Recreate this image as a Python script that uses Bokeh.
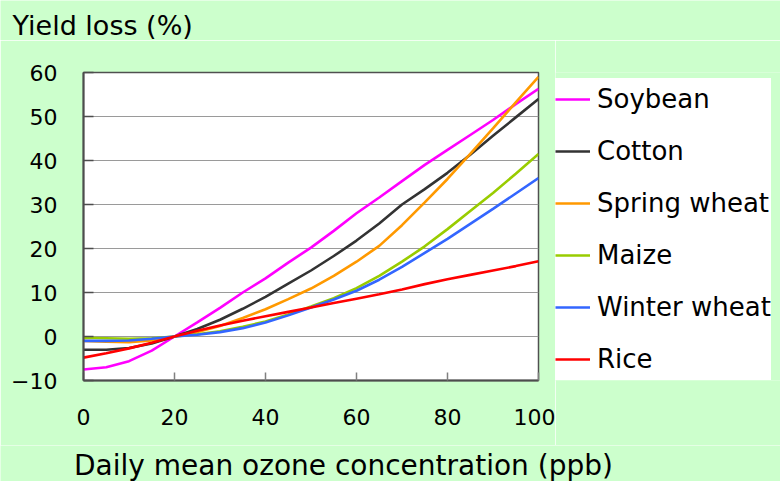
from bokeh.plotting import figure
from bokeh.layouts import row, column
from bokeh.models import Range1d, FixedTicker, Legend, LegendItem, Label
from bokeh.embed import file_html
from bokeh.resources import INLINE

# ---- data -------------------------------------------------------------
ozone = [0, 5, 10, 15, 20, 25, 30, 35, 40, 45, 50, 55, 60, 65, 70, 75, 80, 85, 90, 95, 100]

soybean = [-7.5, -7.0, -5.6, -3.2, 0, 3.2, 6.5, 10.0, 13.2, 16.8, 20.2, 24.0, 28.0, 31.6, 35.3, 39.0, 42.4, 45.8, 49.2, 52.8, 56.3]
cotton = [-3.0, -3.0, -2.6, -1.6, 0, 1.7, 3.8, 6.3, 9.0, 12.0, 15.0, 18.3, 21.8, 25.7, 30.0, 33.5, 37.2, 41.3, 45.6, 49.8, 54.0]
spring_wheat = [-1.0, -1.2, -1.3, -0.9, 0, 1.0, 2.4, 4.2, 6.2, 8.5, 10.9, 13.8, 17.0, 20.6, 25.3, 30.5, 35.8, 41.5, 47.3, 53.2, 59.0]
maize = [-0.3, -0.4, -0.5, -0.4, 0, 0.5, 1.2, 2.2, 3.4, 5.0, 6.8, 8.7, 11.0, 13.8, 17.0, 20.5, 24.4, 28.5, 32.6, 37.0, 41.5]
winter_wheat = [-1.0, -1.0, -0.9, -0.5, 0, 0.4, 1.0, 1.9, 3.2, 4.8, 6.6, 8.4, 10.4, 12.9, 15.8, 19.0, 22.2, 25.6, 29.0, 32.5, 36.0]
rice = [-4.8, -3.8, -2.7, -1.4, 0, 1.3, 2.5, 3.6, 4.6, 5.6, 6.6, 7.6, 8.6, 9.6, 10.7, 11.9, 13.0, 14.0, 15.0, 16.0, 17.1]

crop_names = ["Soybean", "Cotton", "Spring wheat", "Maize", "Winter wheat", "Rice"]
crop_values = [soybean, cotton, spring_wheat, maize, winter_wheat, rice]
crop_colors = ["#FF00FF", "#333333", "#FF9900", "#99CC00", "#3366FF", "#FF0000"]

x_ticks = [0, 20, 40, 60, 80, 100]
y_ticks = [-10, 0, 10, 20, 30, 40, 50, 60]

y_title = "Yield loss (%)"
x_title = "Daily mean ozone concentration (ppb)"

FONT = "DejaVu Sans"
BG = "#CCFFCC"


def strip(width, height):
    s = figure(width=width, height=height, output_backend="svg", toolbar_location=None,
               title=None, x_range=Range1d(0, width), y_range=Range1d(0, height),
               x_axis_location=None, y_axis_location=None,
               min_border=0, background_fill_color=BG, border_fill_color=BG,
               outline_line_color=None)
    s.grid.visible = False
    return s


# ---- y-axis title strip (top) -----------------------------------------
top = strip(780, 40)
top.add_layout(Label(x=12, y=15, text=y_title, text_font=FONT,
                     text_font_size="27px", text_color="black",
                     text_align="left", text_baseline="alphabetic"))

# ---- main chart -------------------------------------------------------
p = figure(width=555, height=405, output_backend="svg", toolbar_location=None,
           title=None, x_range=Range1d(0, 100), y_range=Range1d(-10, 60),
           min_border_left=83, min_border_right=17,
           min_border_top=32, min_border_bottom=65,
           background_fill_color="white", border_fill_color=BG)

p.outline_line_color = "#505050"
p.outline_line_width = 1.5

p.xgrid.visible = False
p.ygrid.grid_line_color = "#9A9A9A"
p.ygrid.grid_line_width = 1.2

p.xaxis.ticker = FixedTicker(ticks=x_ticks)
p.yaxis.ticker = FixedTicker(ticks=y_ticks)
for ax in (p.xaxis[0], p.yaxis[0]):
    ax.axis_line_color = "#4D4D4D"
    ax.axis_line_width = 2
    ax.major_tick_out = 0
    ax.minor_tick_line_color = None
    ax.major_label_text_font = FONT
    ax.major_label_text_font_size = "22px"
    ax.major_label_text_color = "black"
p.xaxis.major_tick_in = 8
p.xaxis.major_tick_line_color = "#808080"
p.xaxis.major_tick_line_width = 1.5
p.xaxis.major_label_standoff = 28
p.yaxis.major_tick_in = 10
p.yaxis.major_tick_line_color = "#4D4D4D"
p.yaxis.major_tick_line_width = 1.5
p.yaxis.major_label_standoff = 26

for name, vals, col in zip(crop_names, crop_values, crop_colors):
    p.line(ozone, vals, line_color=col, line_width=2.6)

# ---- legend panel (same series, drawn out of view; only the key shows) --
q = figure(width=225, height=405, output_backend="svg", toolbar_location=None,
           title=None, x_range=Range1d(1000, 1001), y_range=Range1d(1000, 1001),
           x_axis_location=None, y_axis_location=None,
           min_border=0, background_fill_color=BG, border_fill_color=BG,
           outline_line_color=None)
q.grid.visible = False

items = []
for name, vals, col in zip(crop_names, crop_values, crop_colors):
    r = q.line(ozone, vals, line_color=col, line_width=2.6)
    items.append(LegendItem(label=name, renderers=[r]))

legend = Legend(items=items, location=(0, 0), margin=0, padding=8, spacing=10,
                label_height=42, glyph_height=42, glyph_width=35,
                label_standoff=7, label_text_font=FONT, label_text_font_size="26px",
                label_text_color="black",
                border_line_color=None, background_fill_color="white",
                background_fill_alpha=1.0)
q.add_layout(legend, "center")

# ---- x-axis title strip (bottom) --------------------------------------
bottom = strip(780, 36)
bottom.add_layout(Label(x=343, y=16, text=x_title, text_font=FONT,
                        text_font_size="28px", text_color="black",
                        text_align="center", text_baseline="alphabetic"))

layout = column(top, row(p, q, spacing=0), bottom, spacing=0)

open("out.html", "w").write(file_html(layout, INLINE))
